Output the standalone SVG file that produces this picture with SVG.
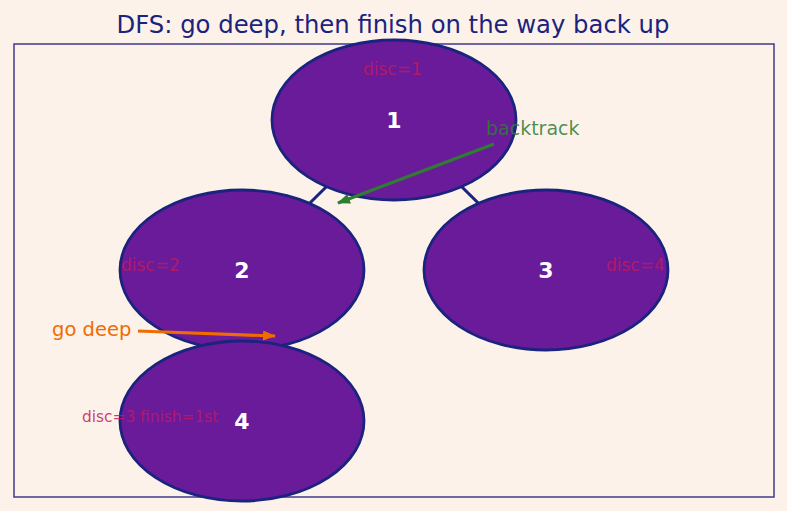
<svg xmlns="http://www.w3.org/2000/svg" width="787" height="511" viewBox="0 0 787 511">
<style>
text{font-family:"DejaVu Sans",sans-serif}
.node{fill:#6a1b9a;stroke:#1a237e;stroke-width:2.8}
.lbl{fill:#fff;font-weight:bold;font-size:22px;text-anchor:middle}
.disc{fill:#c2185b;fill-opacity:0.85;font-size:17px}
.edge{stroke:#1a237e;stroke-width:3;fill:none}
</style>
<defs>
<marker id="ao" markerWidth="13" markerHeight="10" refX="12" refY="5" orient="auto" markerUnits="userSpaceOnUse"><path d="M0,0 L13,5 L0,10 z" fill="#ef6c00"/></marker>
<marker id="ag" markerWidth="13" markerHeight="10" refX="12" refY="5" orient="auto" markerUnits="userSpaceOnUse"><path d="M0,0 L13,5 L0,10 z" fill="#2e7d32"/></marker>
</defs>
<rect width="787" height="511" fill="#fdf2e9"/>
<text x="393" y="33" font-size="24.3" fill="#1a237e" text-anchor="middle">DFS: go deep, then finish on the way back up</text>
<rect x="14" y="44" width="760" height="453" fill="none" stroke="#3f3a8f" stroke-width="1.5"/>
<g id="edges">
<line class="edge" x1="394" y1="120" x2="242" y2="270"/>
<line class="edge" x1="394" y1="120" x2="546" y2="270"/>
<line class="edge" x1="242" y1="270" x2="242" y2="421"/>
</g>
<g id="n1"><ellipse class="node" cx="394" cy="120" rx="122" ry="80"/><text class="lbl" x="394" y="128">1</text></g>
<g id="n2"><ellipse class="node" cx="242" cy="270" rx="122" ry="80"/><text class="lbl" x="242" y="278">2</text></g>
<g id="n3"><ellipse class="node" cx="546" cy="270" rx="122" ry="80"/><text class="lbl" x="546" y="278">3</text></g>
<g id="n4"><ellipse class="node" cx="242" cy="421" rx="122" ry="80"/><text class="lbl" x="242" y="429">4</text></g>
<g id="annotations">
<text class="disc" x="363" y="75">disc=1</text>
<text class="disc" x="121" y="271">disc=2</text>
<text class="disc" x="606" y="271">disc=4</text>
<text class="disc" x="82" y="422" style="font-size:15.4px">disc=3 finish=1st</text>
<line x1="138" y1="331" x2="275" y2="336" stroke="#ef6c00" stroke-width="3.2" marker-end="url(#ao)"/>
<text x="52" y="336" font-size="19.5" fill="#ef6c00">go deep</text>
<line x1="494" y1="144" x2="338" y2="203" stroke="#2e7d32" stroke-width="3.2" marker-end="url(#ag)"/>
<text x="486" y="135" font-size="19" fill="#2e7d32" fill-opacity="0.85">backtrack</text>
</g>
</svg>
